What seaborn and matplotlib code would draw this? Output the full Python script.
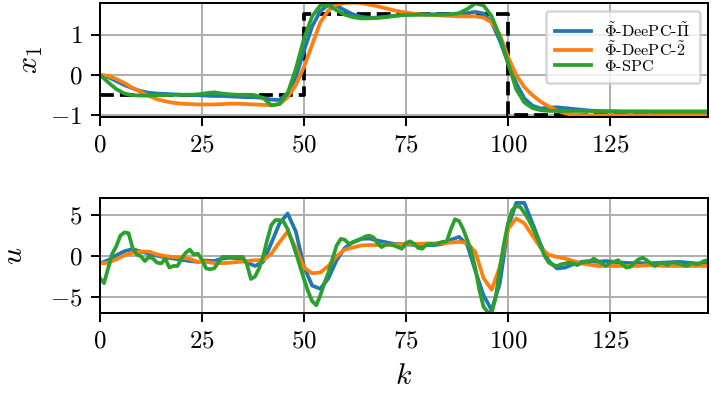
import numpy as np
import matplotlib
matplotlib.use('Agg')
import matplotlib.pyplot as plt
import seaborn as sns

plt.rcParams['font.family'] = 'cmr10'
plt.rcParams['mathtext.fontset'] = 'cm'
plt.rcParams['axes.formatter.use_mathtext'] = True
plt.rcParams['font.size'] = 10

# time steps: u of SPC read at every step, the rest at every 2nd step
k_fine = np.arange(150)
k = np.append(np.arange(0, 149, 2), 149)

# reference for x1
ref_k = [0, 50, 100, 149]
ref_val = [-0.5, 1.5, -1.0, -1.0]

labels = [r'$\tilde{\Phi}$-DeePC-$\tilde{\Pi}$', r'$\tilde{\Phi}$-DeePC-$\tilde{2}$', r'$\Phi$-SPC']
colors = ['#1f77b4', '#ff7f0e', '#2ca02c']

x1_pi = [0, -0.05, -0.15, -0.25, -0.33, -0.40, -0.44, -0.46, -0.47, -0.48, -0.49, -0.49, -0.50,
         -0.51, -0.52, -0.52, -0.53, -0.54, -0.55, -0.55, -0.57, -0.61, -0.62, -0.45, -0.05,
         0.60, 1.20, 1.58, 1.74, 1.71, 1.60, 1.50, 1.44, 1.41, 1.42, 1.44, 1.46, 1.48, 1.49,
         1.50, 1.50, 1.50, 1.50, 1.50, 1.51, 1.53, 1.56, 1.52, 1.30, 0.85,
         0.30, -0.20, -0.58, -0.76, -0.83, -0.81, -0.80, -0.82, -0.84, -0.86, -0.88, -0.89, -0.90,
         -0.90, -0.91, -0.91, -0.91, -0.91, -0.92, -0.92, -0.92, -0.92, -0.92, -0.93, -0.93, -0.93]
x1_2 = [0, -0.02, -0.10, -0.20, -0.32, -0.42, -0.52, -0.60, -0.65, -0.69, -0.71, -0.72, -0.73,
        -0.73, -0.73, -0.72, -0.71, -0.71, -0.72, -0.73, -0.74, -0.75, -0.72, -0.55, -0.25,
        0.20, 0.75, 1.30, 1.60, 1.74, 1.78, 1.79, 1.78, 1.74, 1.70, 1.65, 1.60, 1.56, 1.53,
        1.50, 1.49, 1.48, 1.47, 1.46, 1.45, 1.45, 1.45, 1.42, 1.30, 1.00,
        0.45, 0.00, -0.30, -0.50, -0.66, -0.78, -0.88, -0.95, -0.98, -0.99, -1.00, -1.00, -1.00,
        -1.00, -1.00, -1.00, -1.00, -1.00, -1.00, -1.00, -1.00, -1.00, -1.00, -1.00, -1.00, -1.00]
x1_spc = [0, -0.18, -0.35, -0.46, -0.50, -0.51, -0.51, -0.50, -0.50, -0.49, -0.49, -0.49, -0.48,
          -0.45, -0.43, -0.46, -0.48, -0.49, -0.49, -0.50, -0.57, -0.75, -0.72, -0.45, 0.15,
          0.90, 1.45, 1.72, 1.72, 1.60, 1.49, 1.43, 1.40, 1.40, 1.41, 1.43, 1.46, 1.48, 1.49,
          1.49, 1.49, 1.49, 1.49, 1.50, 1.53, 1.63, 1.77, 1.72, 1.45, 0.95,
          0.30, -0.35, -0.68, -0.82, -0.87, -0.89, -0.89, -0.89, -0.89, -0.89, -0.89, -0.90, -0.90,
          -0.90, -0.90, -0.90, -0.90, -0.90, -0.90, -0.90, -0.90, -0.90, -0.90, -0.90, -0.90, -0.90]

u_pi = [-0.9, -0.5, 0.1, 0.6, 0.85, 0.55, 0.3, 0.05, -0.15, -0.3, -0.45, -0.6, -0.7,
        -0.55, -0.6, -0.3, -0.2, -0.3, -0.8, -1.2, -0.7, 1.6, 4.0, 5.2, 3.0,
        -1.3, -3.6, -4.0, -2.7, -0.5, 1.0, 1.7, 2.1, 2.15, 1.9, 1.7, 1.5, 1.45, 1.4,
        1.35, 1.35, 1.35, 1.5, 2.0, 2.35, 1.4, -1.8, -4.8, -6.6, -3.3,
        3.5, 6.5, 6.5, 4.0, 1.4, -0.6, -1.5, -1.4, -1.0, -0.7, -0.6, -0.7, -0.6,
        -0.7, -0.8, -0.85, -0.85, -0.9, -0.85, -0.8, -0.75, -0.7, -0.8, -0.9, -0.9, -0.9]
u_2 = [-0.9, -0.8, -0.4, 0.1, 0.4, 0.55, 0.55, 0.2, 0.0, -0.1, -0.2, -0.35, -0.7,
       -0.7, -0.85, -0.85, -0.8, -0.7, -0.6, -0.5, -0.5, 0.3, 1.7, 3.0, 1.0,
       -1.4, -2.1, -2.0, -1.2, 0.0, 0.8, 1.05, 1.3, 1.35, 1.35, 1.4, 1.4, 1.45, 1.5,
       1.5, 1.55, 1.55, 1.6, 1.65, 1.75, 1.6, 0.5, -2.7, -4.1, -1.3,
       3.3, 4.6, 4.0, 2.5, 1.0, 0.15, -0.1, -0.3, -0.6, -0.9, -1.05, -1.2, -1.2,
       -1.2, -1.2, -1.2, -1.2, -1.1, -1.15, -1.2, -1.2, -1.2, -1.2, -1.2, -1.2, -1.2]
u_spc = [-2.7, -3.3, -1.5, 0.3, 1.2, 2.5, 2.9, 2.8, 1.0, 0.2,
         0.0, -0.6, -0.1, -0.3, -0.8, -0.9, -0.3, -1.4, -1.2, -1.2,
         -0.3, 0.4, 0.8, 0.2, 0.3, -0.4, -1.5, -1.6, -1.5, -0.8,
         -0.1, -0.1, -0.1, -0.1, -0.1, -0.1, -1.0, -2.8, -2.5, -1.5,
         0.0, 2.0, 3.8, 4.4, 4.4, 4.2, 3.3, 1.9, 0.4, -1.2,
         -2.8, -4.3, -5.5, -6.0, -4.8, -3.3, -2.0, -0.3, 1.3, 2.1,
         2.0, 1.5, 1.7, 1.9, 2.1, 2.4, 2.5, 2.3, 1.6, 1.1,
         1.4, 1.4, 1.3, 1.1, 0.9, 1.6, 1.8, 1.5, 1.0, 0.9,
         1.4, 1.5, 1.4, 1.6, 1.75, 1.8, 3.3, 4.5, 4.3, 3.3,
         2.0, 0.6, -1.5, -4.2, -6.2, -6.8, -6.9, -5.0, -1.5, 1.5,
         4.0, 5.6, 6.1, 6.0, 5.3, 4.5, 3.5, 2.4, 1.2, 0.0,
         -0.8, -1.1, -1.2, -1.0, -0.9, -0.8, -0.9, -1.1, -0.8, -0.7,
         -0.7, -0.3, -0.6, -0.9, -1.2, -0.8, -0.7, -0.5, -1.0, -1.4,
         -1.3, -0.8, -0.4, -0.2, -0.5, -0.9, -1.2, -0.9, -0.8, -1.1,
         -0.8, -0.8, -0.9, -1.1, -1.2, -0.8, -1.0, -0.9, -0.6, -0.5]

fig = plt.figure(figsize=(711 / 180, 396 / 180), dpi=180)
ax1 = fig.add_axes([0.1406, 0.7045, 0.8551, 0.2879])
ax2 = fig.add_axes([0.1406, 0.2096, 0.8551, 0.2904])

# top: state x1
ax1.step(ref_k, ref_val, where='post', color='black', linestyle='--', linewidth=1.5)
sns.lineplot(x=k, y=x1_pi, ax=ax1, color=colors[0], linewidth=1.5, label=labels[0])
sns.lineplot(x=k, y=x1_2, ax=ax1, color=colors[1], linewidth=1.5, label=labels[1])
sns.lineplot(x=k, y=x1_spc, ax=ax1, color=colors[2], linewidth=1.5, label=labels[2])
ax1.set_xlim(0, 149)
ax1.set_ylim(-1.04, 1.78)
ax1.set_yticks([-1, 0, 1])
ax1.set_ylabel('$x_1$', fontsize=12)
ax1.yaxis.set_label_coords(-0.09, 0.5)
ax1.legend(loc='upper right', fontsize=6.5, labelspacing=0.0, handlelength=2.2,
           borderpad=0.6)

# bottom: input u
sns.lineplot(x=k, y=u_pi, ax=ax2, color=colors[0], linewidth=1.5)
sns.lineplot(x=k, y=u_2, ax=ax2, color=colors[1], linewidth=1.5)
sns.lineplot(x=k_fine, y=u_spc, ax=ax2, color=colors[2], linewidth=1.5)
ax2.set_xlim(0, 149)
ax2.set_ylim(-6.95, 7.1)
ax2.set_yticks([-5, 0, 5])
ax2.set_ylabel('$u$', fontsize=12)
ax2.yaxis.set_label_coords(-0.118, 0.5)
ax2.set_xlabel('$k$', fontsize=12)

for ax in (ax1, ax2):
    ax.set_xticks([0, 25, 50, 75, 100, 125])
    ax.grid(True, color='#b0b0b0', linewidth=0.8)

fig.savefig('out.png', dpi=180)
